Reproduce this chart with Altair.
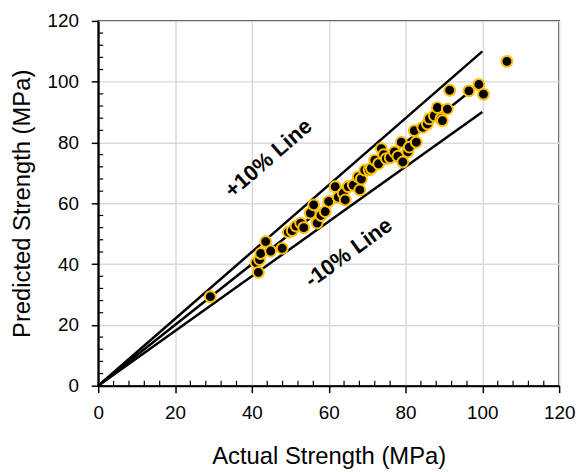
import altair as alt
import pandas as pd

actual = [29.2, 41.1, 41.7, 42.0, 42.3, 43.6, 44.9, 47.9, 49.5, 50.5, 51.5, 52.7,
          53.5, 55.2, 56.1, 57.0, 58.0, 59.1, 60.0, 61.7, 62.5, 63.8, 64.3, 65.1,
          66.4, 67.7, 68.1, 68.5, 69.4, 70.5, 71.1, 72.0, 73.0, 73.7, 74.3, 75.0,
          76.0, 77.1, 78.0, 78.9, 79.3, 80.6, 81.0, 82.3, 82.8, 84.5, 85.7, 86.2,
          87.5, 88.3, 89.2, 89.6, 90.9, 91.5, 96.5, 99.1, 100.3, 106.4]
predicted = [29.3, 40.5, 37.3, 41.5, 43.5, 47.4, 44.3, 45.2, 50.5, 51.0, 52.5, 53.5,
             52.0, 56.8, 59.5, 53.5, 56.0, 57.3, 60.6, 65.5, 62.0, 63.3, 61.1, 65.5,
             66.0, 68.7, 64.4, 68.0, 70.9, 71.0, 71.5, 74.2, 73.0, 78.0, 76.0, 74.7,
             75.0, 76.9, 75.5, 80.1, 73.6, 76.9, 78.5, 83.9, 80.1, 85.0, 86.1, 87.8,
             88.8, 91.5, 87.8, 87.2, 91.0, 97.2, 97.0, 99.1, 95.9, 106.7]

line_names = ["+10%", "Equal", "-10%"]
line_factors = [1.1, 1.0, 0.9]
line_x_end = 100

ticks = [0, 20, 40, 60, 80, 100, 120]
minor = [v for v in range(4, 120, 4) if v % 20 != 0]

label_texts = ["+10% Line", "-10% Line"]
label_x = [44.3, 65.2]
label_y = [74.8, 43.8]
label_angle = [319, 324]

W, H = 465, 368
FONT = "Liberation Sans"

pts = pd.DataFrame({"actual": actual, "predicted": predicted})
lines = pd.DataFrame([
    {"name": n, "x": x, "y": x * f}
    for n, f in zip(line_names, line_factors) for x in (0, line_x_end)
])
minor_df = pd.DataFrame({"v": minor})
labels = pd.DataFrame({"text": label_texts, "x": label_x, "y": label_y, "angle": label_angle})

xs = alt.Scale(domain=[0, 120], nice=False, zero=False)
ys = alt.Scale(domain=[0, 120], nice=False, zero=False)

xaxis = alt.Axis(values=ticks, title="Actual Strength (MPa)", labelFlush=False,
                 labelOverlap=False, labelPadding=11, titlePadding=22)
yaxis = alt.Axis(values=ticks, title="Predicted Strength (MPa)", labelFlush=False,
                 labelOverlap=False, labelPadding=13, titlePadding=13)

line_layer = alt.Chart(lines).mark_line(color="black", strokeWidth=2.5).encode(
    x=alt.X("x:Q", scale=xs, axis=xaxis),
    y=alt.Y("y:Q", scale=ys, axis=yaxis),
    detail="name:N",
)

pt_layer = alt.Chart(pts).mark_point(
    filled=True, fill="black", stroke="#FFC000", strokeWidth=2, size=120, opacity=1,
    shape="circle"
).encode(
    x=alt.X("actual:Q", scale=xs),
    y=alt.Y("predicted:Q", scale=ys),
)

text_layer = alt.Chart(labels).mark_text(
    font=FONT, fontSize=22, fontWeight="bold", color="black", align="center", baseline="middle"
).encode(
    x=alt.X("x:Q", scale=xs),
    y=alt.Y("y:Q", scale=ys),
    text="text:N",
    angle=alt.Angle("angle:Q", scale=None),
)

minor_x = alt.Chart(minor_df).mark_rule(color="black", strokeWidth=1.2).encode(
    x=alt.X("v:Q", scale=xs),
    y=alt.value(H),
    y2=alt.value(H - 5),
)
minor_y = alt.Chart(minor_df).mark_rule(color="black", strokeWidth=1.2).encode(
    y=alt.Y("v:Q", scale=ys),
    x=alt.value(0),
    x2=alt.value(5),
)

chart = alt.layer(line_layer, minor_x, minor_y, pt_layer, text_layer).properties(
    width=W, height=H,
    padding={"left": 91, "top": 11, "right": 18, "bottom": 82},
    autosize="none",
).configure_view(
    stroke="black", strokeWidth=1.5
).configure_axis(
    labelFont=FONT, titleFont=FONT, labelFontSize=19, titleFontSize=24,
    titleFontWeight="normal", labelColor="black", titleColor="black",
    domainColor="black", domainWidth=2, tickColor="black", tickWidth=1.5, tickSize=7,
    gridColor="#d9d9d9", gridWidth=1.5,
)

chart.save("out.html", embed_options={"renderer": "svg", "actions": False})
